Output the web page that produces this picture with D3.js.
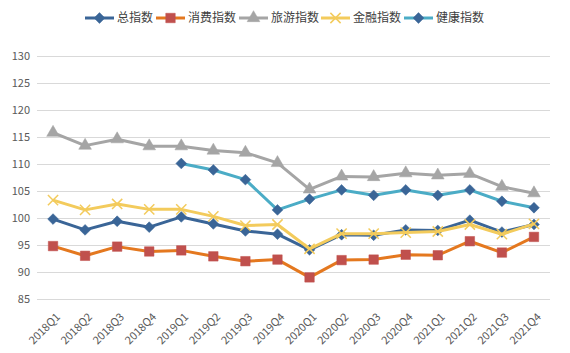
<!DOCTYPE html>
<html>
<head>
<meta charset="utf-8">
<script src="https://cdn.jsdelivr.net/npm/d3@7"></script>
<style>
  body { margin: 0; background: #fff; }
  text { font-family: "Noto Sans CJK SC", "Liberation Sans", sans-serif; }
</style>
</head>
<body>
<div id="chart"></div>
<script>
// quarters on the x axis
var quarters = ["2018Q1", "2018Q2", "2018Q3", "2018Q4", "2019Q1", "2019Q2", "2019Q3", "2019Q4",
    "2020Q1", "2020Q2", "2020Q3", "2020Q4", "2021Q1", "2021Q2", "2021Q3", "2021Q4"];
var yTicks = [85, 90, 95, 100, 105, 110, 115, 120, 125, 130];

var seriesNames = ["总指数", "消费指数", "旅游指数", "金融指数", "健康指数"];

var zongValues = [99.8, 97.8, 99.4, 98.3, 100.2, 98.9, 97.6, 97.0, 94.1, 96.9, 96.8, 97.8, 97.7, 99.6, 97.4, 98.8];
var xiaofeiValues = [94.8, 93.0, 94.7, 93.8, 94.0, 92.9, 92.0, 92.3, 89.0, 92.2, 92.3, 93.2, 93.1, 95.7, 93.6, 96.5];
var lvyouValues = [115.8, 113.4, 114.6, 113.3, 113.3, 112.5, 112.1, 110.2, 105.3, 107.7, 107.6, 108.3, 107.9, 108.2, 105.8, 104.6];
var jinrongValues = [103.3, 101.5, 102.6, 101.6, 101.6, 100.3, 98.6, 98.8, 94.3, 97.1, 97.1, 97.3, 97.5, 98.8, 97.0, 98.9];
var jiankangValues = [null, null, null, null, 110.1, 108.9, 107.1, 101.5, 103.5, 105.2, 104.2, 105.2, 104.2, 105.2, 103.1, 101.9];

var allValues = [zongValues, xiaofeiValues, lvyouValues, jinrongValues, jiankangValues];
var lineColors = ["#3A6597", "#E4781F", "#A5A5A5", "#F3CB5C", "#4BACC6"];
var markerColors = ["#3A6597", "#C0504D", "#A5A5A5", "#F3CB5C", "#3A6597"];
var markerTypes = ["diamond", "square", "triangle", "x", "diamond"];

var width = 570, height = 353;
var margin = { top: 56, right: 20, bottom: 54, left: 37 };

var svg = d3.select("#chart").append("svg")
    .attr("width", width)
    .attr("height", height);

var x = d3.scalePoint()
    .domain(quarters)
    .range([margin.left, width - margin.right])
    .padding(0.5);

var y = d3.scaleLinear()
    .domain([85, 130])
    .range([height - margin.bottom, margin.top]);

// gridlines
svg.append("g")
    .selectAll("line")
    .data(yTicks)
    .join("line")
    .attr("x1", margin.left)
    .attr("x2", width - margin.right)
    .attr("y1", function (d) { return Math.round(y(d)) + 0.5 })
    .attr("y2", function (d) { return Math.round(y(d)) + 0.5 })
    .attr("stroke", "#D9D9D9")
    .attr("stroke-width", 1);

// y axis labels
svg.append("g")
    .selectAll("text")
    .data(yTicks)
    .join("text")
    .attr("x", margin.left - 7)
    .attr("y", function (d) { return y(d) })
    .attr("dy", "0.35em")
    .attr("text-anchor", "end")
    .style("font-size", "11px")
    .attr("fill", "#595959")
    .text(function (d) { return d });

// x axis labels
svg.append("g")
    .selectAll("text")
    .data(quarters)
    .join("text")
    .attr("transform", function (d) { return "translate(" + (x(d) + 5) + "," + (height - margin.bottom + 16) + ") rotate(-45)" })
    .attr("text-anchor", "end")
    .attr("dy", "0.35em")
    .style("font-size", "11px")
    .attr("fill", "#595959")
    .text(function (d) { return d });

function markerPath(type) {
    if (type == "diamond") return d3.symbol(d3.symbolSquare, 58)();
    if (type == "square") return d3.symbol(d3.symbolSquare, 90)();
    if (type == "triangle") return d3.symbol(d3.symbolTriangle, 70)();
    return d3.symbol(d3.symbolTimes || d3.symbolX, 70)();
}
function markerRotate(type) {
    return type == "diamond" ? " rotate(45)" : "";
}

var line = d3.line()
    .defined(function (d) { return d != null })
    .x(function (d, i) { return x(quarters[i]) })
    .y(function (d) { return y(d) });

allValues.forEach(function (values, k) {
    var g = svg.append("g");
    g.append("path")
        .datum(values)
        .attr("fill", "none")
        .attr("stroke", lineColors[k])
        .attr("stroke-width", 3)
        .attr("stroke-linejoin", "round")
        .attr("d", line);

    var pts = values.map(function (v, i) { return { v: v, q: quarters[i] } })
        .filter(function (d) { return d.v != null });

    g.selectAll("path.mk")
        .data(pts)
        .join("path")
        .attr("class", "mk")
        .attr("transform", function (d) { return "translate(" + x(d.q) + "," + y(d.v) + ")" + markerRotate(markerTypes[k]) })
        .attr("d", markerPath(markerTypes[k]))
        .attr("fill", markerTypes[k] == "x" ? "none" : markerColors[k])
        .attr("stroke", markerColors[k])
        .attr("stroke-width", markerTypes[k] == "x" ? 1.5 : 0.5);
});

// legend
var legendX = [85, 156, 239, 321, 404];
var legend = svg.append("g");
seriesNames.forEach(function (name, k) {
    var lg = legend.append("g").attr("transform", "translate(" + legendX[k] + ",18)");
    lg.append("line")
        .attr("x1", 0).attr("x2", 29)
        .attr("stroke", lineColors[k])
        .attr("stroke-width", 3);
    lg.append("path")
        .attr("transform", "translate(14.5,0)" + markerRotate(markerTypes[k]))
        .attr("d", markerPath(markerTypes[k]))
        .attr("fill", markerTypes[k] == "x" ? "none" : markerColors[k])
        .attr("stroke", markerColors[k])
        .attr("stroke-width", markerTypes[k] == "x" ? 1.5 : 0.5);
    lg.append("text")
        .attr("x", 32)
        .attr("dy", "0.35em")
        .style("font-size", "12px")
        .attr("fill", "#404040")
        .text(name);
});
</script>
</body>
</html>
